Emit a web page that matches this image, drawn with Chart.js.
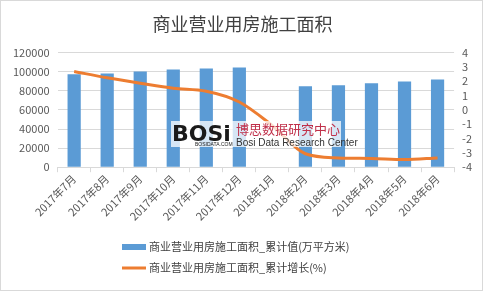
<!DOCTYPE html>
<html><head><meta charset="utf-8">
<script src="https://cdn.jsdelivr.net/npm/chart.js@4"></script>
<style>html,body{margin:0;padding:0;background:#fff}#wrap{width:483px;height:291px;position:relative}</style>
</head><body><div id="wrap"><canvas id="c" width="483" height="291"></canvas></div>
<script>
const categories = ["2017年7月","2017年8月","2017年9月","2017年10月","2017年11月","2017年12月","2018年1月","2018年2月","2018年3月","2018年4月","2018年5月","2018年6月"];
const areaValues = [97400, 98100, 100300, 102400, 103400, 104500, null, 84700, 85800, 87900, 89700, 91800];
const growthValues = [2.68, 2.24, 1.86, 1.51, 1.30, 0.55, -1.1, -3.06, -3.35, -3.39, -3.46, -3.35];
const seriesNames = ["商业营业用房施工面积_累计值(万平方米)", "商业营业用房施工面积_累计增长(%)"];
const titleText = "商业营业用房施工面积";
const FONT = "'Noto Sans CJK SC', 'Open Sans', sans-serif";

const extras = {
  id: 'extras',
  afterDatasetsDraw(chart) {
    const ctx = chart.ctx;
    ctx.save();
    ctx.fillStyle = 'rgba(255,255,255,0.75)';
    ctx.fillRect(171, 121, 170, 26);
    ctx.font = "bold 22px 'DejaVu Sans', sans-serif";
    ctx.fillStyle = '#1a1a1a';
    ctx.textBaseline = 'alphabetic';
    ctx.fillText('BOSi', 172, 141);
    ctx.font = "5px 'Liberation Sans', sans-serif";
    ctx.fillText('BOSIDATA.COM', 195, 146);
    ctx.font = "13px " + FONT;
    ctx.fillStyle = '#c0304a';
    ctx.fillText('博思数据研究中心', 236, 134);
    ctx.font = "10px 'Liberation Sans', sans-serif";
    ctx.fillStyle = '#333';
    ctx.fillText('Bosi Data Research Center', 236, 146);
    ctx.restore();
  },
  afterDraw(chart) {
    const ctx = chart.ctx;
    ctx.save();
    ctx.font = "11px " + FONT;
    ctx.textBaseline = 'middle';
    ctx.fillStyle = '#5B9BD5';
    ctx.fillRect(122, 244, 24, 6);
    ctx.fillStyle = '#404040';
    ctx.fillText(seriesNames[0], 149, 247);
    ctx.strokeStyle = '#ED7D31';
    ctx.lineWidth = 3;
    ctx.beginPath(); ctx.moveTo(122, 268); ctx.lineTo(146, 268); ctx.stroke();
    ctx.fillText(seriesNames[1], 149, 268);
    ctx.strokeStyle = '#d9d9d9';
    ctx.lineWidth = 1;
    ctx.strokeRect(0.5, 0.5, 482, 290);
    ctx.restore();
  }
};

new Chart(document.getElementById('c'), {
  type: 'bar',
  data: {
    labels: categories,
    datasets: [
      { type: 'line', label: seriesNames[1], data: growthValues, yAxisID: 'y1', borderColor: '#ED7D31', backgroundColor: '#ED7D31', borderWidth: 3, pointRadius: 0, tension: 0.4, cubicInterpolationMode: 'monotone', order: 0 },
      { type: 'bar', label: seriesNames[0], data: areaValues, yAxisID: 'y', backgroundColor: '#5B9BD5', barPercentage: 0.4, categoryPercentage: 1.0, order: 1 }
    ]
  },
  options: {
    responsive: false,
    animation: false,
    layout: { padding: { left: 5, right: 3, top: 0, bottom: 68 } },
    plugins: {
      legend: { display: false },
      tooltip: { enabled: false },
      title: { display: true, text: titleText, color: '#404040', font: { family: FONT, size: 18, weight: 'normal' }, padding: { top: 13, bottom: 18 } }
    },
    scales: {
      x: {
        grid: { display: true, offset: true, drawOnChartArea: false, color: '#d9d9d9', tickLength: 5 },
        border: { color: '#d9d9d9' },
        ticks: { color: '#595959', font: { family: FONT, size: 11 }, maxRotation: 45, minRotation: 45, autoSkip: false, padding: 0 }
      },
      y: {
        position: 'left', min: 0, max: 120000,
        ticks: { stepSize: 20000, autoSkip: false, color: '#595959', font: { family: FONT, size: 11 }, padding: 8, callback: v => String(v) },
        grid: { color: '#d9d9d9', drawTicks: false },
        border: { display: false }
      },
      y1: {
        position: 'right', min: -4, max: 4,
        ticks: { stepSize: 1, autoSkip: false, color: '#595959', font: { family: FONT, size: 11 }, padding: 8, callback: v => String(v) },
        grid: { drawOnChartArea: false, drawTicks: false },
        border: { display: false }
      }
    }
  },
  plugins: [extras]
});
</script></body></html>
